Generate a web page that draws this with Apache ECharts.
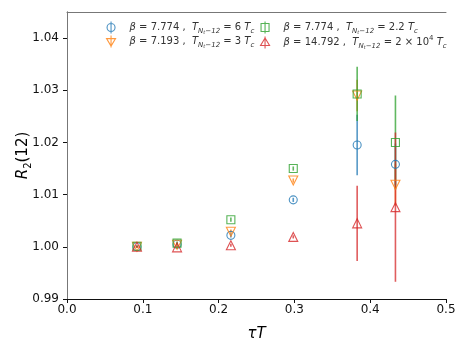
<!DOCTYPE html>
<html>
<head>
<meta charset="utf-8">
<script src="https://cdn.jsdelivr.net/npm/echarts@6/dist/echarts.min.js"></script>
<style>
  html, body { margin: 0; padding: 0; background: #fff; }
  #chart { width: 469px; height: 352px; }
</style>
</head>
<body>
<div id="chart"></div>
<script>
// tau*T positions shared by all four runs
const tauT = [0.0923, 0.1452, 0.2162, 0.2985, 0.3828, 0.4333]

// beta = 7.774, T = 6 Tc
const blueR = [1.0000, 1.0005, 1.0022, 1.0090, 1.0195, 1.0158]
const blueErr = [0.0002, 0.0003, 0.0004, 0.0004, 0.0058, 0.0040]
// beta = 7.193, T = 3 Tc
const orangeR = [1.0000, 1.0004, 1.0029, 1.0127, 1.0290, 1.0119]
const orangeErr = [0.0002, 0.0003, 0.0004, 0.0004, 0.0030, 0.0040]
// beta = 7.774, T = 2.2 Tc
const greenR = [1.0001, 1.0007, 1.0052, 1.0150, 1.0293, 1.0200]
const greenErr = [0.0002, 0.0003, 0.0004, 0.0004, 0.0052, 0.0090]
// beta = 14.792, T = 2e4 Tc
const redR = [1.0000, 0.9999, 1.0003, 1.0019, 1.0045, 1.0076]
const redErr = [0.0002, 0.0003, 0.0003, 0.0003, 0.0072, 0.0143]

const xTicks = [0, 0.1, 0.2, 0.3, 0.4, 0.5]
const yTicks = [0.99, 1.00, 1.01, 1.02, 1.03, 1.04]

// legend text (rich text, mathtext look)
const legendText = {
  b1: '{i|β}{n| = 7.774 ,  }{i|T}{s|N}{ss|t}{s|−12}{n| = 6 }{i|T}{s|c}',
  b2: '{i|β}{n| = 7.193 ,  }{i|T}{s|N}{ss|t}{s|−12}{n| = 3 }{i|T}{s|c}',
  b3: '{i|β}{n| = 7.774 ,  }{i|T}{s|N}{ss|t}{s|−12}{n| = 2.2 }{i|T}{s|c}',
  b4: '{i|β}{n| = 14.792 ,  }{i|T}{s|N}{ss|t}{s|−12}{n| = 2 × 10}{sup|4}{n| }{i|T}{s|c}',
}

const runs = [
  { name: 'b1', r: blueR, err: blueErr, color: '#1f77b4', symbol: 'circle', rot: 0, size: 8,
    icon: 'path://M0,0L0,12M-4,6A4,4,0,1,0,4,6A4,4,0,1,0,-4,6Z' },
  { name: 'b2', r: orangeR, err: orangeErr, color: '#ff7f0e', symbol: 'triangle', rot: 180, size: 9,
    icon: 'path://M0,0L0,12M-4.5,3L4.5,3L0,10.5Z' },
  { name: 'b3', r: greenR, err: greenErr, color: '#2ca02c', symbol: 'rect', rot: 0, size: 8,
    icon: 'path://M0,0L0,12M-4,2L4,2L4,10L-4,10Z' },
  { name: 'b4', r: redR, err: redErr, color: '#d62728', symbol: 'triangle', rot: 0, size: 9,
    icon: 'path://M0,0L0,12M0,1.5L4.5,9L-4.5,9Z' },
]

const richStyle = {
  n: { fontSize: 10, color: '#333', lineHeight: 15, fontFamily: 'DejaVu Sans' },
  i: { fontSize: 10, color: '#333', lineHeight: 15, fontStyle: 'italic', fontFamily: 'DejaVu Sans' },
  s: { fontSize: 7, color: '#333', lineHeight: 7, verticalAlign: 'bottom', fontStyle: 'italic', fontFamily: 'DejaVu Sans' },
  ss: { fontSize: 5, color: '#333', lineHeight: 5, verticalAlign: 'bottom', fontStyle: 'italic', fontFamily: 'DejaVu Sans' },
  sup: { fontSize: 7, color: '#333', lineHeight: 9, verticalAlign: 'top', fontFamily: 'DejaVu Sans' },
}

const series = []
runs.forEach((run) => {
  const pts = tauT.map((x, k) => [x, run.r[k], run.err[k]])
  series.push({
    name: run.name + '_err',
    type: 'custom',
    data: pts,
    encode: { x: 0, y: 1 },
    renderItem: function (params, api) {
      const top = api.coord([api.value(0), api.value(1) + api.value(2)])
      const bot = api.coord([api.value(0), api.value(1) - api.value(2)])
      return {
        type: 'line',
        shape: { x1: top[0], y1: top[1], x2: bot[0], y2: bot[1] },
        style: { stroke: run.color, lineWidth: 1.6, opacity: 0.75 },
      }
    },
  })
  series.push({
    name: run.name,
    type: 'scatter',
    data: pts.map((p) => [p[0], p[1]]),
    symbol: run.symbol,
    symbolRotate: run.rot,
    symbolSize: run.size,
    itemStyle: { color: 'transparent', borderColor: run.color, borderWidth: 1.1 },
  })
})

const legendItem = (run) => ({
  name: run.name,
  icon: run.icon,
  itemStyle: { color: 'transparent', borderColor: run.color, borderWidth: 1.1 },
})

const legendBase = {
  orient: 'vertical',
  top: 16,
  itemWidth: 9,
  itemHeight: 12,
  itemGap: 0,
  formatter: (name) => legendText[name],
  textStyle: { fontSize: 10, rich: richStyle, padding: [0, 0, 0, 9] },
}

const chart = echarts.init(document.getElementById('chart'))
chart.setOption({
  animation: false,
  backgroundColor: '#fff',
  textStyle: { fontFamily: 'DejaVu Sans' },
  grid: { left: 67, right: 23, top: 12, bottom: 53 },
  legend: [
    Object.assign({}, legendBase, { left: 101, data: [legendItem(runs[0]), legendItem(runs[1])] }),
    Object.assign({}, legendBase, { left: 255, data: [legendItem(runs[2]), legendItem(runs[3])] }),
  ],
  xAxis: [
    {
      type: 'value',
      position: 'bottom',
      min: 0,
      max: 0.5,
      interval: 0.1,
      name: '{i|τT}',
      nameLocation: 'middle',
      nameGap: 28,
      nameTextStyle: { rich: { i: { fontSize: 15, fontStyle: 'italic', color: '#000', fontFamily: 'DejaVu Sans' } } },
      axisLine: { lineStyle: { color: '#111', width: 1 } },
      axisTick: { length: 4, lineStyle: { color: '#111' }, customValues: xTicks },
      axisLabel: { customValues: xTicks, margin: 5, fontSize: 12, color: '#111', formatter: (v) => v.toFixed(1) },
      splitLine: { show: false },
    },
    {
      type: 'value',
      position: 'top',
      min: 0,
      max: 0.5,
      axisLine: { show: true, lineStyle: { color: '#777', width: 1 } },
      axisTick: { show: false },
      axisLabel: { show: false },
      splitLine: { show: false },
    },
  ],
  yAxis: [
    {
      type: 'value',
      position: 'left',
      min: 0.99,
      max: 1.045,
      name: '{i|R}{s|2}{n|(12)}',
      nameLocation: 'middle',
      nameGap: 34,
      nameRotate: 90,
      nameMoveOverlap: false,
      nameTextStyle: {
        rich: {
          i: { fontSize: 15, fontStyle: 'italic', color: '#000', lineHeight: 20, fontFamily: 'DejaVu Sans' },
          n: { fontSize: 15, color: '#000', lineHeight: 20, fontFamily: 'DejaVu Sans' },
          s: { fontSize: 10, color: '#000', lineHeight: 10, verticalAlign: 'bottom', fontFamily: 'DejaVu Sans' },
        },
      },
      axisLine: { show: true, lineStyle: { color: '#777', width: 1 } },
      axisTick: { length: 4, lineStyle: { color: '#111' }, customValues: yTicks },
      axisLabel: { customValues: yTicks, margin: 8, fontSize: 12, color: '#111', formatter: (v) => v.toFixed(2) },
      splitLine: { show: false },
    },
    {
      type: 'value',
      position: 'right',
      min: 0.99,
      max: 1.045,
      axisLine: { show: true, lineStyle: { color: '#777', width: 1 } },
      axisTick: { show: false },
      axisLabel: { show: false },
      splitLine: { show: false },
    },
  ],
  series: series,
})
</script>
</body>
</html>
